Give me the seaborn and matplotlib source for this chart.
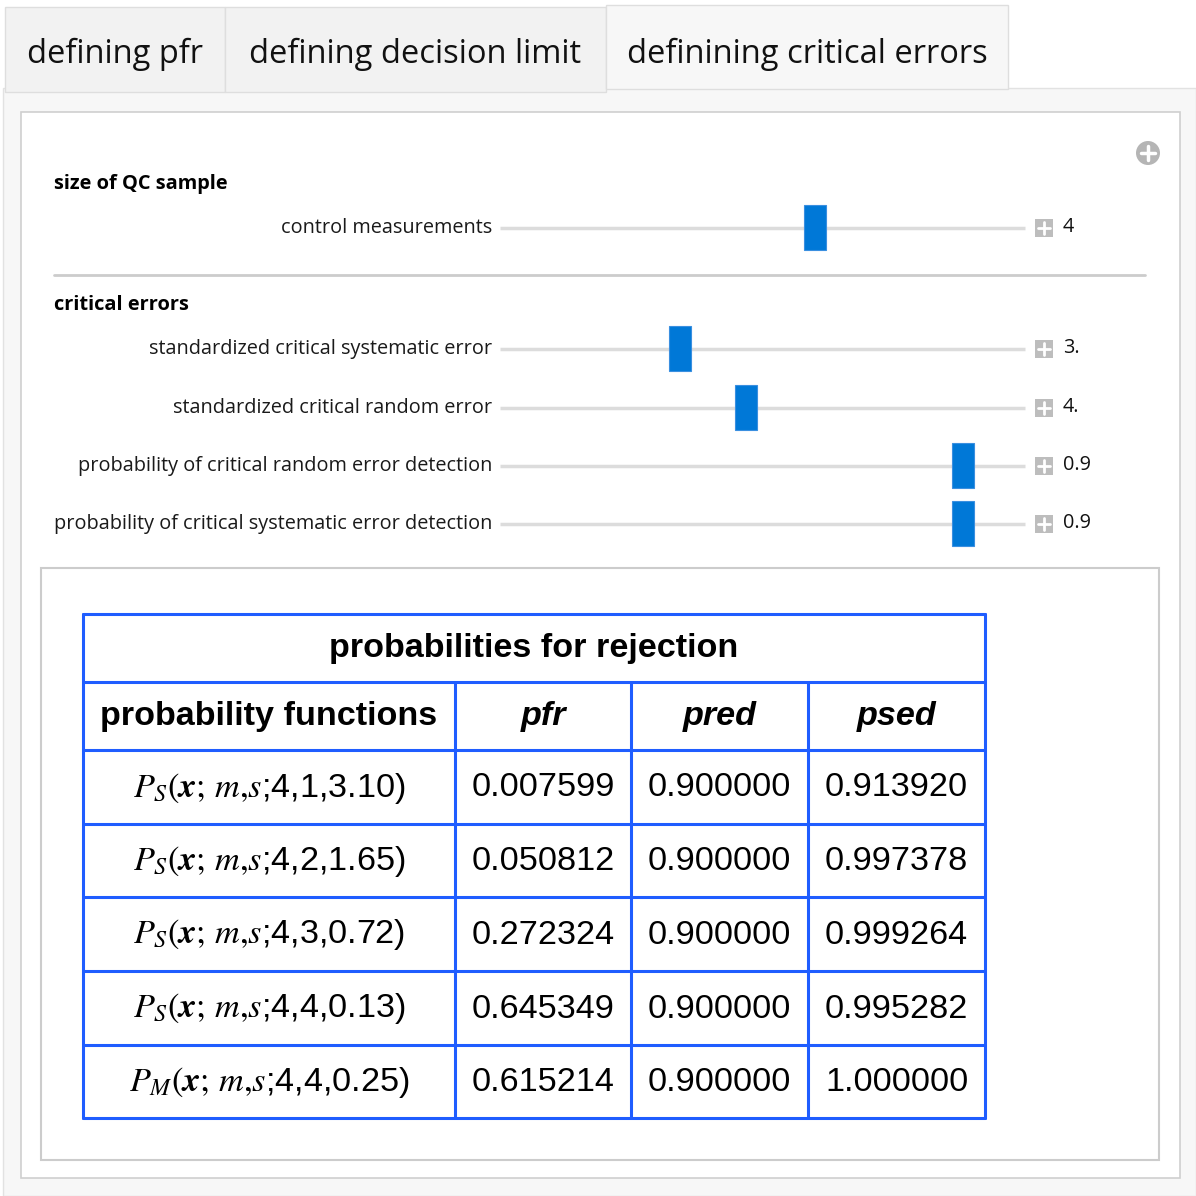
import numpy as np
import pandas as pd
import matplotlib.pyplot as plt
import seaborn as sns
from matplotlib.patches import Rectangle, Circle

sns.set_style('white')
plt.rcParams['font.family'] = ['Open Sans', 'DejaVu Sans']
plt.rcParams['mathtext.fontset'] = 'stix'
plt.rcParams['text.color'] = 'black'

# tabs
tab_labels = ['defining pfr', 'defining decision limit', 'definining critical errors']

# controls
slider_labels = ['control measurements',
                 'standardized critical systematic error',
                 'standardized critical random error',
                 'probability of critical random error detection',
                 'probability of critical systematic error detection']
slider_values = [4, 3.0, 4.0, 0.9, 0.9]
slider_shown = ['4', '3.', '4.', '0.9', '0.9']
slider_min = [1, 0.5, 1.0, 0.0, 0.0]
slider_max = [6, 7.8, 7.4, 1.02, 1.02]

# table
table_title = 'probabilities for rejection'
col_heads = ['probability functions', 'pfr', 'pred', 'psed']
func_sub = ['S', 'S', 'S', 'S', 'M']
func_args = ['4,1,3.10', '4,2,1.65', '4,3,0.72', '4,4,0.13', '4,4,0.25']
pfr = [0.007599, 0.050812, 0.272324, 0.645349, 0.615214]
pred = [0.900000, 0.900000, 0.900000, 0.900000, 0.900000]
psed = [0.913920, 0.997378, 0.999264, 0.995282, 1.000000]

df = pd.DataFrame({'sub': func_sub, 'args': func_args,
                   'pfr': pfr, 'pred': pred, 'psed': psed})

fig = plt.figure(figsize=(11.96, 11.96), dpi=100)
ax = fig.add_axes([0, 0, 1, 1])
ax.set_xlim(0, 1196)
ax.set_ylim(1196, 0)
ax.axis('off')

# outer background + tabs
ax.add_patch(Rectangle((3, 88), 1193, 1108, fc='#f7f7f7', ec='#e2e2e2', lw=1))
tab_x = [5, 225, 606, 1008]
for i, lab in enumerate(tab_labels):
    active = i == 2
    y0 = 5 if active else 7
    y1 = 89 if active else 92
    ax.add_patch(Rectangle((tab_x[i], y0), tab_x[i + 1] - tab_x[i], y1 - y0,
                           fc='#f7f7f7' if active else '#f2f2f2',
                           ec='#dedede', lw=1, zorder=2))
    ax.text((tab_x[i] + tab_x[i + 1]) / 2, 54, lab, ha='center', va='center',
            fontsize=23.5, color='#111111', zorder=3)

# white control panel
ax.add_patch(Rectangle((21, 112), 1159, 1066, fc='white', ec='#cfcfcf', lw=1.2))
ax.add_patch(Circle((1148, 153), 12, fc='#b5b5b5', ec='none'))
ax.plot([1141, 1155], [153, 153], color='white', lw=2.5)
ax.plot([1148, 1148], [146, 160], color='white', lw=2.5)

ax.text(54, 184, 'size of QC sample', fontsize=14.4, fontweight='bold', va='center')
ax.text(54, 305, 'critical errors', fontsize=14.4, fontweight='bold', va='center')
ax.plot([54, 1145], [275, 275], color='#cccccc', lw=2)

row_y = [227, 348, 407, 465, 523]
trk0, trk1 = 500, 1025
for lab, v, s, lo, hi, y in zip(slider_labels, slider_values, slider_shown,
                                 slider_min, slider_max, row_y):
    ax.text(492, y + 1, lab, ha='right', va='center', fontsize=14.3, color='#1a1a1a')
    ax.plot([trk0, trk1], [y + 1, y + 1], color='#dcdcdc', lw=2.5, solid_capstyle='butt')
    xc = trk0 + (v - lo) / (hi - lo) * (trk1 - trk0)
    ax.add_patch(Rectangle((xc - 11, y - 22), 22, 45, fc='#0078d7', ec='#3a8fe0', lw=0.8, zorder=4))
    ax.add_patch(Rectangle((1035, y - 8), 18, 18, fc='#bdbdbd', ec='none'))
    ax.plot([1038, 1050], [y + 1, y + 1], color='white', lw=2)
    ax.plot([1044, 1044], [y - 5, y + 7], color='white', lw=2)
    ax.text(1063, y, s, ha='left', va='center', fontsize=14.3, color='#111111')

# result panel
ax.add_patch(Rectangle((41, 568), 1118, 592, fc='white', ec='#cccccc', lw=1.5))

blue = '#1f5dff'
col_x = [83, 455, 631, 808, 985]
row_lines = [614, 682, 750, 824, 897, 971, 1045, 1118]
tfont = ['Liberation Sans', 'DejaVu Sans']
for yl in row_lines:
    ax.plot([col_x[0], col_x[-1]], [yl, yl], color=blue, lw=2.2, zorder=5)
for j, xl in enumerate(col_x):
    top = row_lines[0] if j in (0, len(col_x) - 1) else row_lines[1]
    ax.plot([xl, xl], [top, row_lines[-1]], color=blue, lw=2.2, zorder=5)

ax.text((col_x[0] + col_x[-1]) / 2, (row_lines[0] + row_lines[1]) / 2 + 1, table_title,
        ha='center', va='center', fontsize=24.6, fontweight='bold', family=tfont)
for j, h in enumerate(col_heads):
    ax.text((col_x[j] + col_x[j + 1]) / 2, (row_lines[1] + row_lines[2]) / 2 + 1, h,
            ha='center', va='center', fontsize=24.6, fontweight='bold',
            style='normal' if j == 0 else 'italic', family=tfont)

for i, r in df.iterrows():
    yc = (row_lines[i + 2] + row_lines[i + 3]) / 2 + 1
    label = r'$P_{%s}(\mathbfit{x}{;}\,m{,}s$;%s)' % (r['sub'], r['args'])
    ax.text((col_x[0] + col_x[1]) / 2, yc, label, ha='center', va='center',
            fontsize=24.7, family=tfont)
    for j, key in enumerate(['pfr', 'pred', 'psed']):
        ax.text((col_x[j + 1] + col_x[j + 2]) / 2, yc, '%.6f' % r[key],
                ha='center', va='center', fontsize=24.7, family=tfont)

fig.savefig('out.png', dpi=100)
